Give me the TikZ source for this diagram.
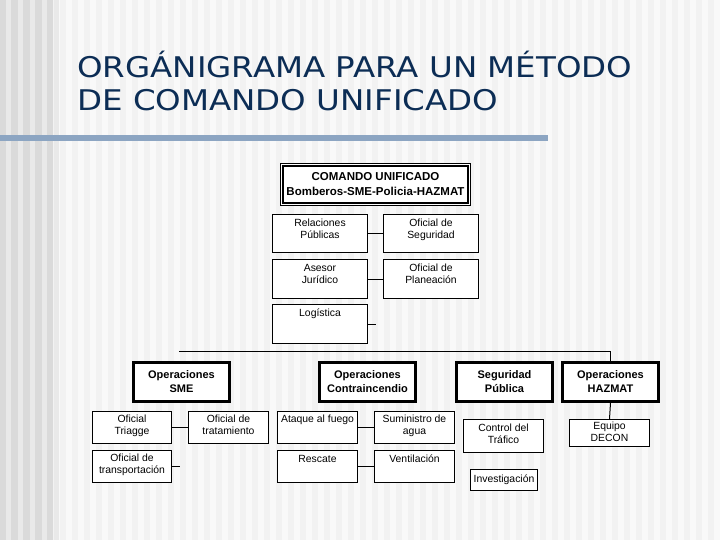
\documentclass[tikz,border=0pt]{standalone}
\usepackage{fontspec}
\setmainfont{Liberation Sans}
\newfontfamily\titlefont{DejaVu Sans}
\usetikzlibrary{calc}
\definecolor{mytitle}{RGB}{12,45,85}
\definecolor{mybar}{RGB}{140,165,194}
\definecolor{mybg}{RGB}{242,242,242}
\definecolor{mystrip}{RGB}{218,218,218}

\begin{document}
\begin{tikzpicture}[x=1pt,y=-1pt,
  unit/.style={draw=black,fill=white,line width=1pt,anchor=north west,inner sep=0pt},
  chief/.style={unit,line width=3pt},
  lbl/.style={anchor=north,align=center,inner sep=0pt,font=\fontsize{10.4}{12}\selectfont},
  blbl/.style={align=center,inner sep=0pt,font=\bfseries\fontsize{11}{14}\selectfont},
  ttl/.style={anchor=base west,inner sep=0pt,text=mytitle,font=\titlefont\fontsize{28.5}{33}\selectfont},
  link/.style={line width=1pt}]

% background
\useasboundingbox (0,0) rectangle (720,540);
\fill[mybg] (0,0) rectangle (720,540);
\foreach \i in {0,...,59}
  \fill[white!55!mybg] (\i*12+6,0) rectangle ++(6,540);
\fill[mystrip] (0,0) rectangle (53,540);
\foreach \i in {0,...,4}
  \fill[mystrip!60!white] (\i*12+6,0) rectangle ++(5,540);
\fill[mybar] (0,135) rectangle (548,141);

% title
\node[ttl] (title1) at (77,78) {\scalebox{1.14}[1]{ORGÁNIGRAMA PARA UN MÉTODO}};
\node[ttl] (title2) at (77,111) {\scalebox{1.14}[1]{DE COMANDO UNIFICADO}};

% command staff
\node[unit,minimum width=190pt,minimum height=42pt] (cmd) at (280,163) {};
\draw[line width=1.5pt] ($(cmd.north west)+(3,3)$) rectangle ($(cmd.south east)+(-3,-3)$);
\node[blbl,font=\bfseries\fontsize{11.5}{15}\selectfont] at (cmd.center) {COMANDO UNIFICADO\\Bomberos-SME-Policia-HAZMAT};

\node[unit,minimum width=95pt,minimum height=38pt] (relpub) at (272,214) {};
\node[lbl] at ($(relpub.north)+(0,5)$) {Relaciones\\Públicas};
\node[unit,minimum width=95pt,minimum height=38pt] (segofc) at (383,214) {};
\node[lbl] at ($(segofc.north)+(0,5)$) {Oficial de\\Seguridad};
\node[unit,minimum width=95pt,minimum height=39pt] (asesor) at (272,259) {};
\node[lbl] at ($(asesor.north)+(0,5)$) {Asesor\\Jurídico};
\node[unit,minimum width=95pt,minimum height=39pt] (planea) at (383,259) {};
\node[lbl] at ($(planea.north)+(0,5)$) {Oficial de\\Planeación};
\node[unit,minimum width=95pt,minimum height=39pt] (logist) at (272,304) {};
\node[lbl] at ($(logist.north)+(0,5)$) {Logística};

\draw[link] (relpub.east) -- (segofc.west);
\draw[link] (asesor.east) -- (planea.west);
\coordinate (logstub) at ($(logist.east)+(8,0)$);
\draw[link] (logist.east) -- (logstub);

% sections
\node[chief,minimum width=96pt,minimum height=39pt] (opsme) at (132,361) {};
\node[blbl] at (opsme.center) {Operaciones\\SME};
\node[chief,minimum width=96pt,minimum height=39pt] (opfire) at (318,361) {};
\node[blbl] at (opfire.center) {Operaciones\\Contraincendio};
\node[chief,minimum width=96pt,minimum height=39pt] (segpub) at (455,361) {};
\node[blbl] at (segpub.center) {Seguridad\\Pública};
\node[chief,minimum width=96pt,minimum height=39pt] (hazmat) at (561,361) {};
\node[blbl] at (hazmat.center) {Operaciones\\HAZMAT};

\coordinate (busL) at (179,351);
\coordinate (busR) at (hazmat.north |- busL);
\draw[link] (busL) -- (busR) -- (hazmat.north);

% units
\node[unit,minimum width=79pt,minimum height=32pt] (triage) at (92,411) {};
\node[lbl] at ($(triage.north)+(0,4)$) {Oficial\\Triagge};
\node[unit,minimum width=80pt,minimum height=32pt] (tratam) at (188,411) {};
\node[lbl] at ($(tratam.north)+(0,4)$) {Oficial de\\tratamiento};
\node[unit,minimum width=79pt,minimum height=32pt] (transp) at (92,450) {};
\node[lbl] at ($(transp.north)+(0,4)$) {Oficial de\\transportación};
\node[unit,minimum width=80pt,minimum height=32pt] (ataque) at (277,411) {};
\node[lbl] at ($(ataque.north)+(0,4)$) {Ataque al fuego};
\node[unit,minimum width=80pt,minimum height=32pt] (sumin) at (374,411) {};
\node[lbl] at ($(sumin.north)+(0,4)$) {Suministro de\\agua};
\node[unit,minimum width=80pt,minimum height=32pt] (rescate) at (277,450) {};
\node[lbl] at ($(rescate.north)+(0,5)$) {Rescate};
\node[unit,minimum width=80pt,minimum height=32pt] (ventil) at (374,450) {};
\node[lbl] at ($(ventil.north)+(0,5)$) {Ventilación};
\node[unit,minimum width=80pt,minimum height=33pt] (trafico) at (463,419) {};
\node[lbl] at ($(trafico.north)+(0,5)$) {Control del\\Tráfico};
\node[unit,minimum width=67pt,minimum height=21pt] (investig) at (470,469) {};
\node[lbl,anchor=center] at (investig.center) {Investigación};
\node[unit,minimum width=80pt,minimum height=27pt] (decon) at (569,419) {};
\node[lbl] at ($(decon.north)+(0,3)$) {Equipo\\DECON};

\draw[link] (triage.east) -- (tratam.west);
\coordinate (trstub) at ($(transp.east)+(8,0)$);
\draw[link] (transp.east) -- (trstub);
\draw[link] (ataque.east) -- (sumin.west);
\draw[link] (rescate.east) -- (ventil.west);
\draw[link] (hazmat.south) -- (decon.north);

\end{tikzpicture}
\end{document}
